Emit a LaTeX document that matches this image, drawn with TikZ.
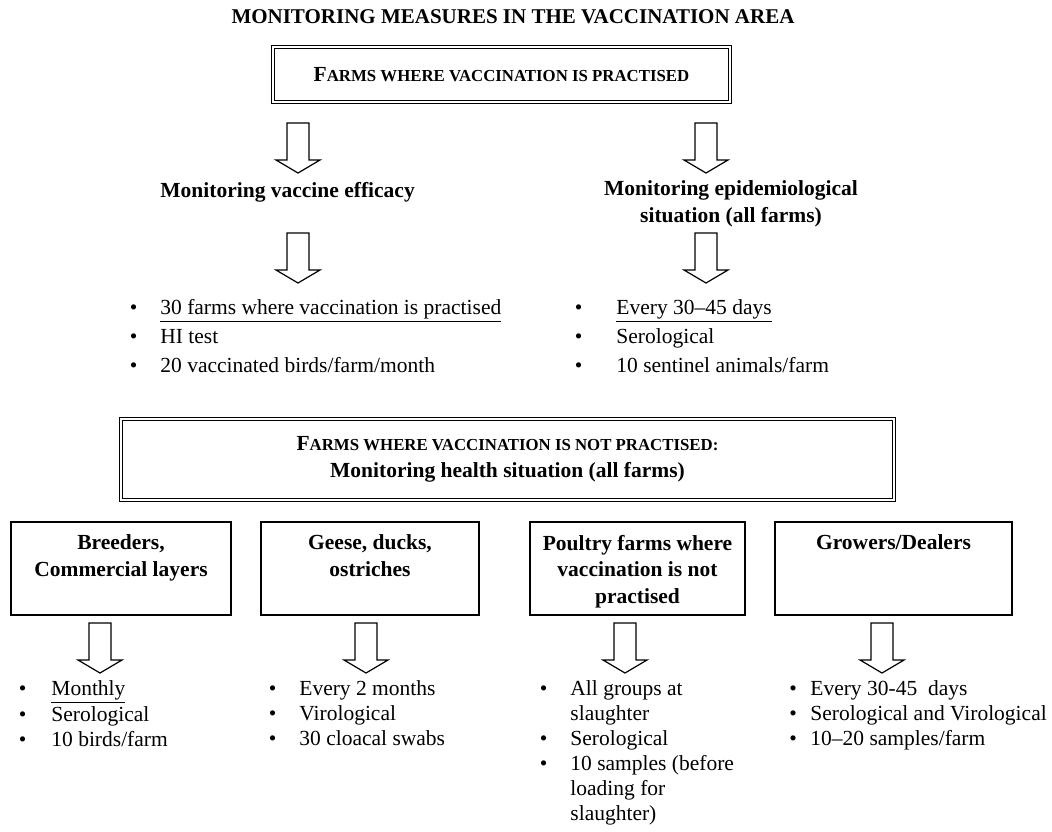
\documentclass[tikz,border=0pt]{standalone}
\usepackage{fontspec}
\setmainfont{Liberation Serif}
\usetikzlibrary{positioning,calc}

\newcommand{\bodyfont}{\fontsize{10.75}{13.4}\selectfont}
% fake small capitals for the box headings
\newcommand{\smallcap}[1]{{\fontsize{8.4}{10}\selectfont #1}}
% category box: text at the top of a fixed-height box
\newcommand{\cathead}[2]{\parbox[c][46.5pt][t]{#1}{\centering\vspace*{6.5pt}\textbf{#2}}}
% hollow block arrow, #1 = top centre
\newcommand{\hollowarrow}[1]{%
  \draw[hollow] ($(#1)+(-11,0)$) -- ++(22,0) -- ++(0,37) -- ++(11,0)
    -- ($(#1)+(0,50)$) -- ($(#1)+(-22,37)$) -- ++(11,0) -- cycle;}

\tikzset{
  hollow/.style={draw=black, line width=0.6pt, fill=white, line join=miter},
  dblbox/.style={draw=black, double, double distance=1pt, line width=0.5pt,
    inner sep=0pt, align=center, font=\bodyfont\bfseries},
  catbox/.style={draw=black, line width=0.6pt, inner sep=0pt, font=\bodyfont},
  itemlist/.style={inner sep=0pt, anchor=base west, font=\bodyfont},
  lowlist/.style={itemlist, font=\fontsize{10.75}{12.5}\selectfont},
  heading/.style={inner sep=0pt, font=\bodyfont\bfseries}
}

\begin{document}
\begin{tikzpicture}[x=0.5pt, y=-0.5pt]
    \useasboundingbox (0,0) rectangle (1052,831);

    \node[heading, font=\fontsize{10.5}{12}\selectfont\bfseries] (title) at (513,17)
        {MONITORING MEASURES IN THE VACCINATION AREA};

    % vaccinated farms
    \node[dblbox, minimum width=228.5pt, minimum height=27.5pt] (vaccfarms) at (501.5,74.5)
        {F\smallcap{ARMS WHERE VACCINATION IS PRACTISED}};

    \coordinate (effarrow) at (298,123);
    \coordinate (epiarrow) at (706,123);
    \hollowarrow{effarrow}
    \hollowarrow{epiarrow}

    \node[heading, anchor=base west] (efficacy) at (160,197) {Monitoring vaccine efficacy};
    \node[heading, align=center] (epidem) at (731,204)
        {Monitoring epidemiological\\situation (all farms)};

    \coordinate (effarrowb) at (298,233);
    \coordinate (epiarrowb) at (706,233);
    \hollowarrow{effarrowb}
    \hollowarrow{epiarrowb}

    \node[itemlist] (effitems) at (129.5,314) {\begin{tabular}[t]{@{}p{15.25pt}@{}l@{}}
        \textbullet & \underline{30 farms where vaccination is practised}\\[1.1pt]
        \textbullet & HI test\\[1.1pt]
        \textbullet & 20 vaccinated birds/farm/month
        \end{tabular}};
    \node[itemlist] (epiitems) at (574.5,314) {\begin{tabular}[t]{@{}p{20.75pt}@{}l@{}}
        \textbullet & \underline{Every 30--45 days}\\[1.1pt]
        \textbullet & Serological\\[1.1pt]
        \textbullet & 10 sentinel animals/farm
        \end{tabular}};

    % non-vaccinated farms
    \node[dblbox, minimum width=386.5pt, minimum height=40.5pt] (novacc) at (507.5,459.5)
        {F\smallcap{ARMS WHERE VACCINATION IS NOT PRACTISED:}\\
         Monitoring health situation (all farms)};

    \node[catbox] (breeders) at (121,568.5) {\cathead{110pt}{Breeders,\\Commercial layers}};
    \node[catbox] (geese) at (370,568.5) {\cathead{109pt}{Geese, ducks,\\ostriches}};
    \node[catbox] (poultry) at (637.5,568.5)
        {\cathead{107.5pt}{Poultry farms where\\vaccination is not\\practised}};
    \node[catbox] (growers) at (893.5,568.5) {\cathead{118.5pt}{Growers/Dealers}};

    \coordinate (brarrow) at (100,623);
    \coordinate (gearrow) at (366,623);
    \coordinate (poarrow) at (625,623);
    \coordinate (grarrow) at (882,623);
    \hollowarrow{brarrow}
    \hollowarrow{gearrow}
    \hollowarrow{poarrow}
    \hollowarrow{grarrow}

    \node[lowlist] (britems) at (18.5,695) {\begin{tabular}[t]{@{}p{16.25pt}@{}l@{}}
        \textbullet & \underline{Monthly}\\
        \textbullet & Serological\\
        \textbullet & 10 birds/farm
        \end{tabular}};
    \node[lowlist] (geitems) at (268.5,695) {\begin{tabular}[t]{@{}p{15.25pt}@{}l@{}}
        \textbullet & Every 2 months\\
        \textbullet & Virological\\
        \textbullet & 30 cloacal swabs
        \end{tabular}};
    \node[lowlist] (poitems) at (539.5,695) {\begin{tabular}[t]{@{}p{15.25pt}@{}l@{}}
        \textbullet & All groups at\\
                    & slaughter\\
        \textbullet & Serological\\
        \textbullet & 10 samples (before\\
                    & loading for\\
                    & slaughter)
        \end{tabular}};
    \node[lowlist] (gritems) at (789,695) {\begin{tabular}[t]{@{}p{10.5pt}@{}l@{}}
        \textbullet & Every 30-45 \ days\\
        \textbullet & Serological and Virological\\
        \textbullet & 10--20 samples/farm
        \end{tabular}};
\end{tikzpicture}
\end{document}
